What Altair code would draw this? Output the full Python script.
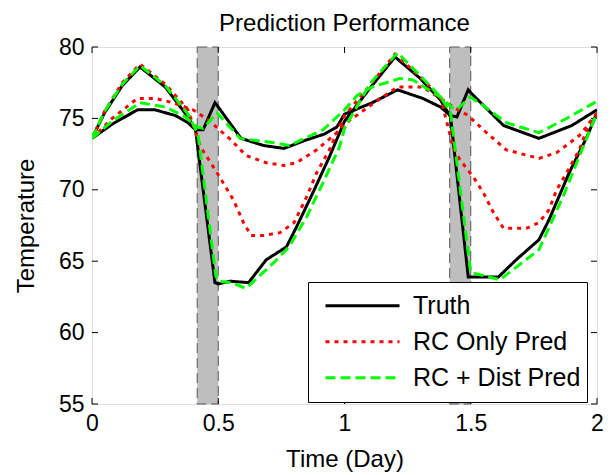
import altair as alt
import pandas as pd

# ---------------- data ----------------
SERIES = ["Truth", "RC Only Pred", "RC + Dist Pred"]
COLORS = ["#000000", "#FF0000", "#00FF00"]
DASHES = [[1, 0], [4, 5], [10, 5]]

TRUTH_MILD_T = [0, 0.08, 0.18, 0.25, 0.33, 0.38, 0.41, 0.44, 0.487, 0.5, 0.59, 0.68, 0.76, 0.85, 0.92, 0.97, 1.0,
                1.11, 1.21, 1.31, 1.38, 1.42, 1.445, 1.49, 1.5, 1.63, 1.77, 1.9, 2.0]
TRUTH_MILD_V = [73.6, 74.6, 75.6, 75.6, 75.2, 74.7, 74.2, 74.2, 76.1, 75.8, 73.6, 73.1, 72.9, 73.5, 73.9, 74.4, 75.3,
                76.1, 77.0, 76.4, 75.8, 75.2, 75.1, 77.0, 76.8, 74.5, 73.6, 74.5, 75.6]

TRUTH_DROP_T = [0, 0.05, 0.12, 0.19, 0.29, 0.38, 0.41, 0.487, 0.5, 0.547, 0.62, 0.69, 0.77, 0.81, 0.875, 0.94, 1.0,
                1.1, 1.2, 1.3, 1.38, 1.42, 1.49, 1.5, 1.61, 1.68, 1.77, 1.81, 1.89, 1.96, 2.0]
TRUTH_DROP_V = [73.6, 75.4, 77.3, 78.6, 77.2, 75.1, 74.2, 63.5, 63.4, 63.6, 63.5, 65.1, 66.0, 67.4, 69.8, 72.3, 74.8,
                77.1, 79.3, 77.8, 76.3, 75.1, 63.9, 63.9, 63.9, 65.1, 66.5, 67.9, 71.2, 73.7, 75.4]

RC_MILD_T = [0, 0.08, 0.18, 0.25, 0.32, 0.40, 0.46, 0.55, 0.61, 0.69, 0.76, 0.81, 0.89, 0.97, 1.0,
             1.11, 1.21, 1.31, 1.38, 1.43, 1.49, 1.55, 1.64, 1.77, 1.84, 1.93, 2.0]
RC_MILD_V = [73.6, 75.0, 76.4, 76.4, 76.1, 75.6, 74.9, 73.5, 72.4, 71.9, 71.7, 71.9, 72.8, 74.0, 74.6,
             76.0, 77.2, 77.2, 76.4, 75.8, 75.2, 74.2, 72.8, 72.2, 72.6, 73.8, 75.3]

RC_DROP_T = [0, 0.05, 0.12, 0.19, 0.29, 0.38, 0.43, 0.495, 0.56, 0.60, 0.63, 0.68, 0.745, 0.80, 0.85, 0.89, 0.94, 1.0,
             1.1, 1.2, 1.3, 1.38, 1.43, 1.457, 1.51, 1.55, 1.59, 1.63, 1.72, 1.77, 1.81, 1.84, 1.88, 1.93, 1.97, 2.0]
RC_DROP_V = [73.6, 75.5, 77.5, 78.8, 77.4, 75.6, 73.0, 71.2, 69.3, 67.7, 66.8, 66.8, 67.0, 67.7, 69.5, 71.2, 72.8, 75.2,
             77.3, 79.5, 77.9, 76.5, 73.0, 72.1, 70.9, 69.8, 68.4, 67.3, 67.3, 67.7, 68.6, 70.0, 71.2, 72.8, 74.7, 75.4]

DIST_MILD_T = [0, 0.08, 0.19, 0.29, 0.37, 0.415, 0.44, 0.495, 0.586, 0.72, 0.78, 0.915, 1.0,
               1.05, 1.11, 1.22, 1.27, 1.38, 1.43, 1.445, 1.497, 1.55, 1.64, 1.77, 1.88, 2.0]
DIST_MILD_V = [73.6, 74.8, 76.1, 75.8, 75.1, 74.4, 74.3, 75.4, 73.6, 73.3, 73.1, 74.2, 75.6,
               76.6, 77.2, 77.8, 77.7, 76.5, 75.7, 75.6, 76.5, 75.9, 74.7, 74.0, 75.0, 76.2]

DIST_DROP_T = [0, 0.05, 0.12, 0.19, 0.29, 0.38, 0.42, 0.49, 0.5, 0.55, 0.61, 0.72, 0.78, 0.85, 0.915, 0.98, 1.0,
               1.1, 1.21, 1.3, 1.38, 1.42, 1.5, 1.55, 1.615, 1.77, 1.865, 1.945, 2.0]
DIST_DROP_V = [73.6, 75.5, 77.4, 78.7, 77.3, 75.3, 73.9, 64.0, 63.6, 63.5, 63.1, 64.9, 66.0, 68.1, 70.5, 73.0, 74.3,
               77.4, 79.6, 78.0, 76.5, 75.4, 64.2, 64.0, 63.7, 65.8, 69.5, 73.0, 75.4]

BAND_START = [0.4167, 1.4167]
BAND_END = [0.5, 1.5]

X_TICKS = [0, 0.5, 1, 1.5, 2]
Y_TICKS = [55, 60, 65, 70, 75, 80]

# ---------------- tables ----------------
rows = []
for series, curve, ts, vs in [
    ("Truth", "truth_mild", TRUTH_MILD_T, TRUTH_MILD_V),
    ("Truth", "truth_drop", TRUTH_DROP_T, TRUTH_DROP_V),
    ("RC Only Pred", "rc_mild", RC_MILD_T, RC_MILD_V),
    ("RC Only Pred", "rc_drop", RC_DROP_T, RC_DROP_V),
    ("RC + Dist Pred", "dist_mild", DIST_MILD_T, DIST_MILD_V),
    ("RC + Dist Pred", "dist_drop", DIST_DROP_T, DIST_DROP_V),
]:
    for t, v in zip(ts, vs):
        rows.append({"series": series, "curve": curve, "t": t, "temp": v})
df = pd.DataFrame(rows)
band_df = pd.DataFrame({"start": BAND_START, "end": BAND_END})
xt_df = pd.DataFrame({"v": X_TICKS})
yt_df = pd.DataFrame({"v": Y_TICKS})

# ---------------- styling ----------------
FONT = "Liberation Sans"
W, H = 505, 357
TICK = 6

x_scale = alt.Scale(domain=[0, 2], nice=False, zero=False)
y_scale = alt.Scale(domain=[55, 80], nice=False, zero=False)
x_axis = alt.Axis(values=X_TICKS, format="~g", ticks=False, domain=False, grid=False,
                  labelFont=FONT, labelFontSize=23, labelPadding=8, labelColor="black",
                  titleFont=FONT, titleFontSize=24, titleFontWeight="normal", titleColor="black",
                  titlePadding=12, labelFlush=False)
y_axis = alt.Axis(values=Y_TICKS, ticks=False, domain=False, grid=False,
                  labelFont=FONT, labelFontSize=23, labelPadding=8, labelColor="black",
                  titleFont=FONT, titleFontSize=24, titleFontWeight="normal", titleColor="black",
                  titlePadding=20, labelFlush=False)


def xenc(field):
    return alt.X(f"{field}:Q", scale=x_scale, axis=x_axis, title="Time (Day)")


def yenc(field):
    return alt.Y(f"{field}:Q", scale=y_scale, axis=y_axis, title="Temperature")


legend = alt.Legend(orient="none", legendX=216, legendY=235, title=None,
                    symbolType="stroke", symbolSize=74 * 74, symbolStrokeWidth=3,
                    labelFont=FONT, labelFontSize=25, labelColor="black", labelOffset=12,
                    symbolOffset=10, padding=6, clipHeight=35.5, rowPadding=0,
                    strokeColor="black", fillColor="white", labelLimit=400)

color_enc = alt.Color("series:N", scale=alt.Scale(domain=SERIES, range=COLORS), legend=legend)
dash_enc = alt.StrokeDash("series:N", scale=alt.Scale(domain=SERIES, range=DASHES), legend=legend)

bands = alt.Chart(band_df).mark_rect(fill="#BEBEBE", stroke="#555555", strokeWidth=1,
                                      strokeDash=[10, 5]).encode(
    x=xenc("start"), x2="end", y=alt.value(0), y2=alt.value(H))


def line_layer(name):
    return alt.Chart(df).transform_filter(alt.datum.series == name).mark_line(
        strokeWidth=3, strokeCap="butt", clip=True).encode(
        x=xenc("t"), y=yenc("temp"), color=color_enc, strokeDash=dash_enc, detail="curve:N")


xticks_b = alt.Chart(xt_df).mark_rule(color="black", strokeWidth=1).encode(
    x=xenc("v"), y=alt.value(H), y2=alt.value(H - TICK))
xticks_t = alt.Chart(xt_df).mark_rule(color="black", strokeWidth=1).encode(
    x=xenc("v"), y=alt.value(0), y2=alt.value(TICK))
yticks_l = alt.Chart(yt_df).mark_rule(color="black", strokeWidth=1).encode(
    y=yenc("v"), x=alt.value(0), x2=alt.value(TICK))
yticks_r = alt.Chart(yt_df).mark_rule(color="black", strokeWidth=1).encode(
    y=yenc("v"), x=alt.value(W), x2=alt.value(W - TICK))

chart = alt.layer(
    bands, xticks_b, xticks_t, yticks_l, yticks_r,
    line_layer("Truth"), line_layer("RC Only Pred"), line_layer("RC + Dist Pred"),
).properties(
    width=W, height=H,
    title=alt.TitleParams("Prediction Performance", font=FONT, fontSize=24, fontWeight="normal",
                          color="black", anchor="middle", offset=0),
    autosize=alt.AutoSizeParams(type="none"),
    padding={"left": 84, "top": 39, "right": 8, "bottom": 68},
).configure_view(stroke="black", strokeWidth=1).configure(background="white")

chart.save("out.html", embed_options={"renderer": "svg", "actions": False})
